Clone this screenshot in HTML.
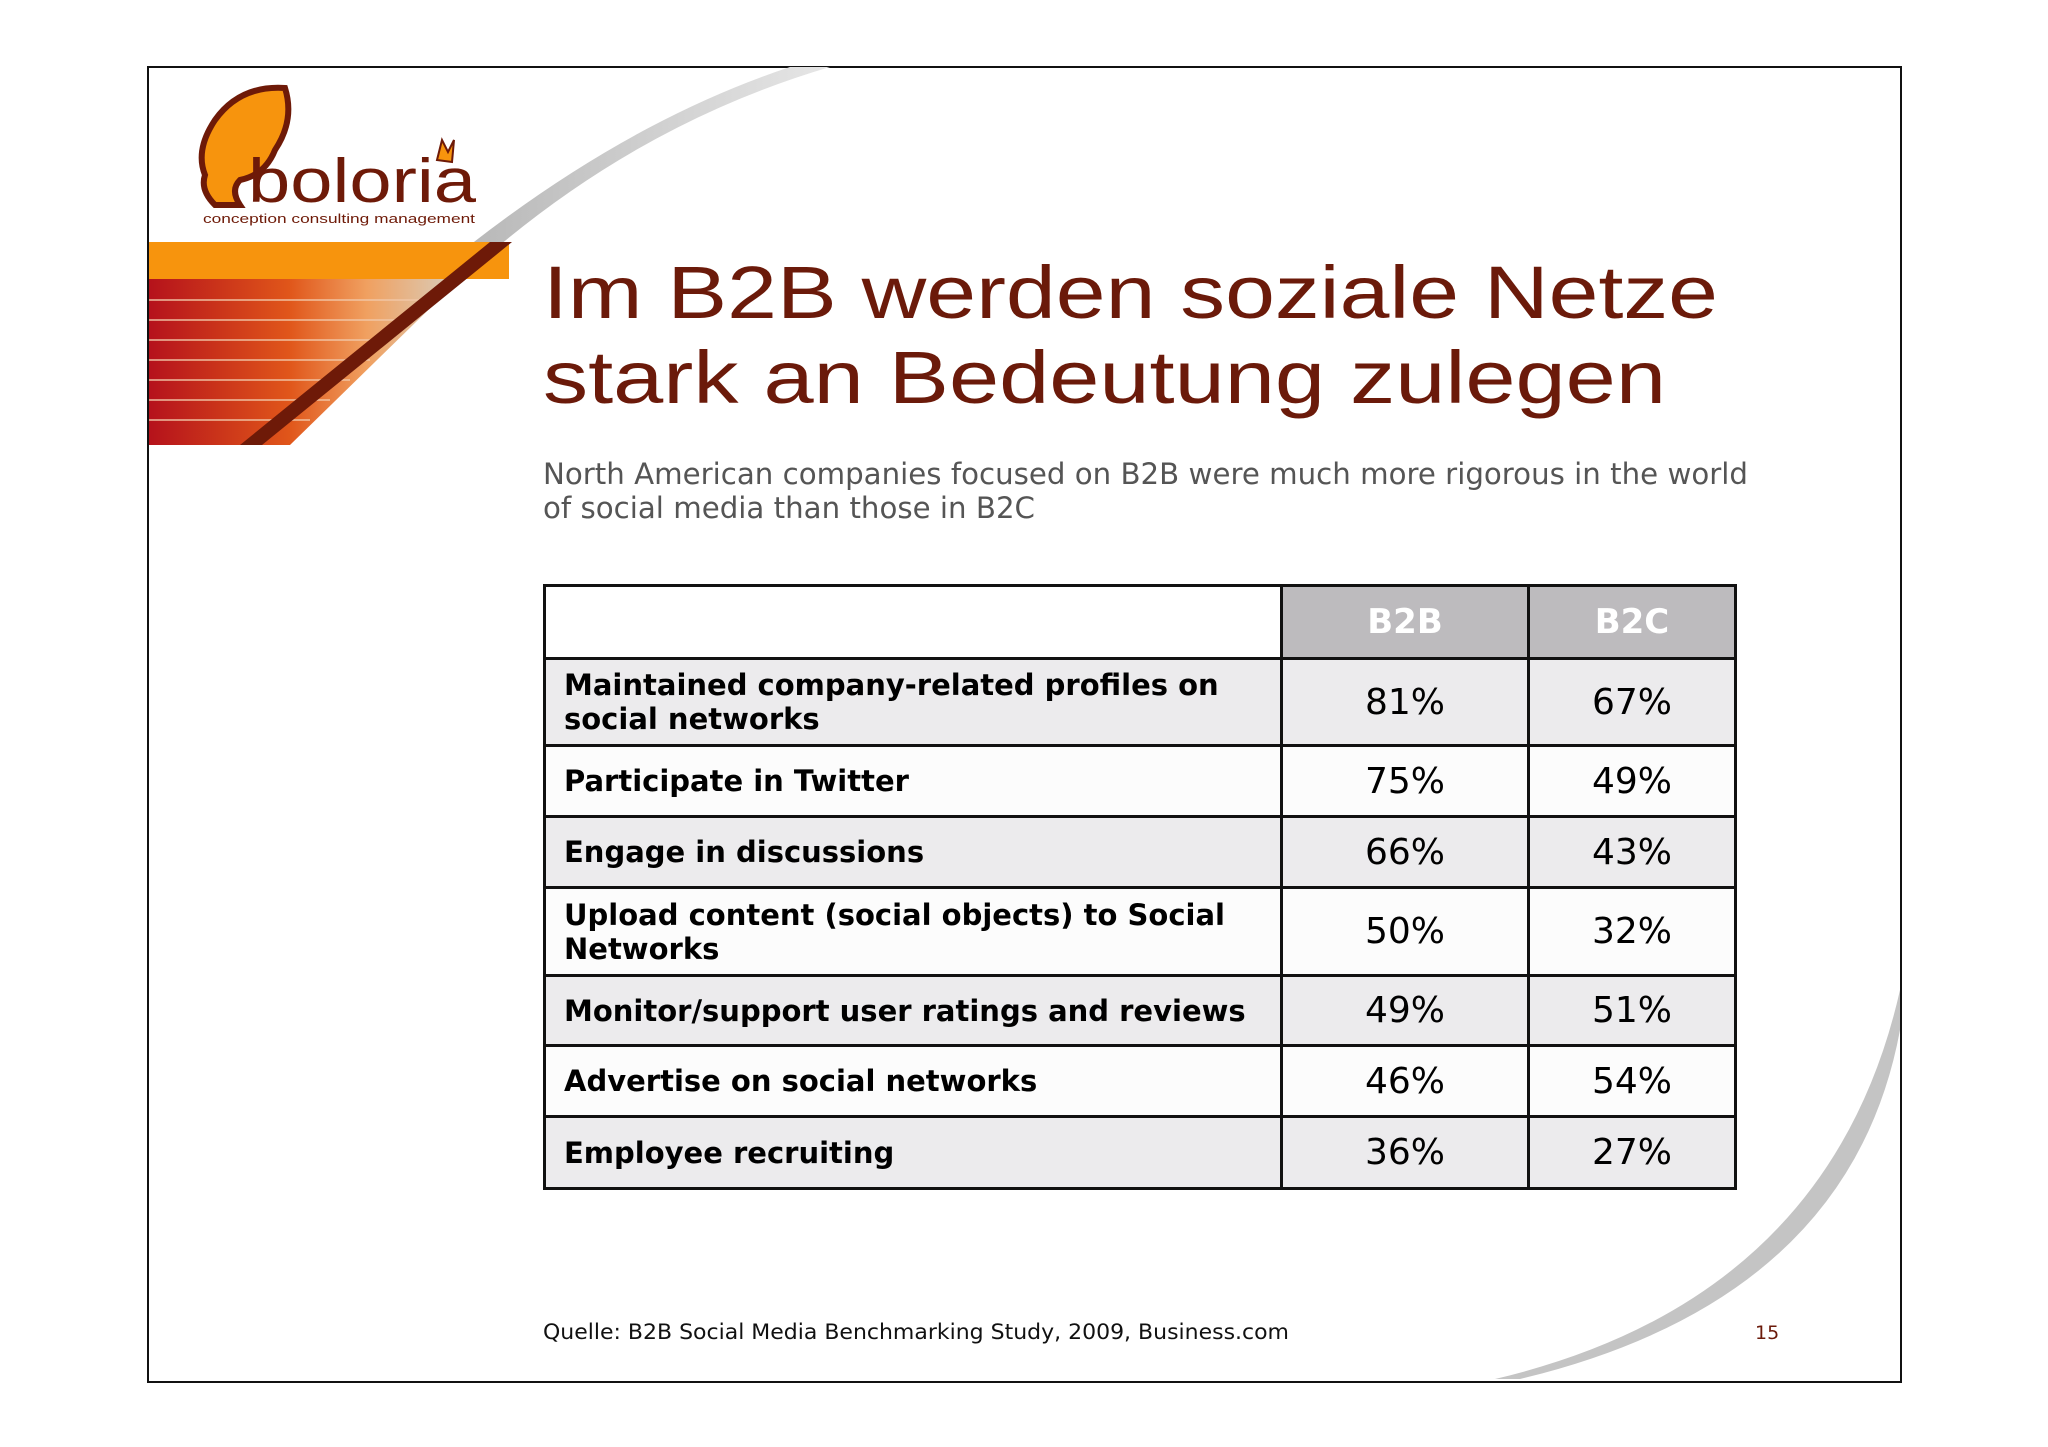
<!DOCTYPE html>
<html><head><meta charset="utf-8"><style>
body{margin:0;width:2048px;height:1447px;background:#fff;position:relative;overflow:hidden;font-family:"DejaVu Sans","Liberation Sans",sans-serif}
.abs{position:absolute}
table{border-collapse:collapse;position:absolute;left:543px;top:584px;width:1194px;table-layout:fixed}
td{border:3px solid #111;padding:0 18px;font-size:29px;color:#000}
td.lab{font-weight:bold;font-size:29px;line-height:34px}
td.num{text-align:center;font-size:36px}
th{border:3px solid #111;background:#bdbbbe;color:#fff;font-size:34px;font-weight:bold;height:68px}
</style></head><body>
<div class="abs" style="left:147px;top:66px;width:1751px;height:1313px;border:2.5px solid #111"></div>
<svg class="abs" style="left:0;top:0" width="2048" height="1447">
<defs>
<linearGradient id="stripe" x1="0" x2="1"><stop offset="0" stop-color="#b5121b"/><stop offset="0.45" stop-color="#e0561a"/><stop offset="0.7" stop-color="#f0a060"/><stop offset="1" stop-color="#d8d0c0"/></linearGradient>
<linearGradient id="sw" x1="0" x2="1"><stop offset="0" stop-color="#b8b8b8"/><stop offset="1" stop-color="#e6e6e6"/></linearGradient>
</defs>
<path d="M500,245 Q650,120 830,67 L790,67 Q630,120 470,245 Z" fill="url(#sw)"/>
<path d="M1900,990 Q1830,1300 1495,1379 L1520,1379 Q1850,1300 1900,1030 Z" fill="#c4c4c4"/>
<rect x="149" y="242" width="360" height="37" fill="#f7940d"/>
<polygon points="149,279 460,279 290,445 149,445" fill="url(#stripe)"/>
<g stroke="#f2c8a8" stroke-width="2" opacity="0.7">
<line x1="149" y1="300" x2="430" y2="300"/><line x1="149" y1="320" x2="410" y2="320"/><line x1="149" y1="340" x2="390" y2="340"/><line x1="149" y1="360" x2="370" y2="360"/><line x1="149" y1="380" x2="350" y2="380"/><line x1="149" y1="400" x2="330" y2="400"/><line x1="149" y1="420" x2="310" y2="420"/></g>
<polygon points="490,242 512,242 262,445 240,445" fill="#6e1a08"/>
<path d="M285,88 Q240,85 215,120 Q195,150 205,175 Q200,190 215,205 L240,205 Q230,190 240,180 Q265,175 275,150 Q295,120 285,88 Z" fill="#f7940d" stroke="#6e1a08" stroke-width="6"/>
<text x="248" y="202" font-family="Liberation Sans,sans-serif" font-size="62" fill="#6e1a08" textLength="228" lengthAdjust="spacingAndGlyphs">boloria</text>
<path d="M437,160 l5,-20 l6,12 l6,-12 l-2,22 z" fill="#f7940d" stroke="#6e1a08" stroke-width="2"/>
<text x="203" y="223" font-family="Liberation Sans,sans-serif" font-size="13" fill="#6e1a08" textLength="272" lengthAdjust="spacingAndGlyphs">conception consulting management</text>
<text x="543" y="318" font-family="Liberation Sans,sans-serif" font-size="74" fill="#6b1a0a" textLength="1175" lengthAdjust="spacingAndGlyphs">Im B2B werden soziale Netze</text>
<text x="543" y="403" font-family="Liberation Sans,sans-serif" font-size="74" fill="#6b1a0a" textLength="1123" lengthAdjust="spacingAndGlyphs">stark an Bedeutung zulegen</text>
<text x="543" y="484" font-size="29" fill="#555" textLength="1205" lengthAdjust="spacingAndGlyphs" font-family="DejaVu Sans,sans-serif">North American companies focused on B2B were much more rigorous in the world</text>
<text x="543" y="518" font-size="29" fill="#555" font-family="DejaVu Sans,sans-serif" textLength="492" lengthAdjust="spacingAndGlyphs">of social media than those in B2C</text>
<text x="543" y="1339" font-size="21" fill="#111" font-family="DejaVu Sans,sans-serif" textLength="746" lengthAdjust="spacingAndGlyphs">Quelle: B2B Social Media Benchmarking Study, 2009, Business.com</text>
<text x="1755" y="1339" font-size="19" fill="#6b1a0a" font-family="DejaVu Sans,sans-serif">15</text>
</svg>
<table id="tbl">
<colgroup><col style="width:737px"><col style="width:247px"><col></colgroup>
<tr><th style="background:#fff"></th><th>B2B</th><th>B2C</th></tr>
</table>
<script>
const labels=["Maintained company-related profiles on social networks","Participate in Twitter","Engage in discussions","Upload content (social objects) to Social Networks","Monitor/support user ratings and reviews","Advertise on social networks","Employee recruiting"];
const b2b=[81,75,66,50,49,46,36];
const b2c=[67,49,43,32,51,54,27];
const heights=[87,71,71,88,70,71,72];
const t=document.getElementById('tbl');
labels.forEach((l,i)=>{
 const tr=document.createElement('tr');
 
 
 tr.style.background=i%2==0?'#ecebed':'#fcfcfc';
 tr.style.height=heights[i]+'px';
 const a=document.createElement('td');a.className='lab';a.textContent=l;
 
 
 const b=document.createElement('td');b.className='num';b.textContent=b2b[i]+'%';
 
 
 const c=document.createElement('td');c.className='num';c.textContent=b2c[i]+'%';
 
 
 tr.append(a,b,c);t.appendChild(tr);
});
</script>
</body></html>
